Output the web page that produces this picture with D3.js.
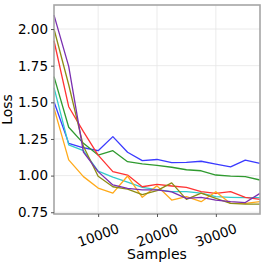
<!DOCTYPE html>
<html>
<head>
<meta charset="utf-8">
<script src="https://cdn.jsdelivr.net/npm/d3@7"></script>
<style>
  html, body { margin: 0; padding: 0; background: #fff; }
  svg text { font-family: "DejaVu Sans", sans-serif; fill: #000; }
</style>
</head>
<body>
<svg id="chart"></svg>
<script>
const samples = [2500, 5000, 7500, 10000, 12500, 15000, 17500, 20000, 22500, 25000, 27500, 30000, 32500, 35000, 37500];

const purple = [2.095, 1.745, 1.16, 1.027, 0.936, 0.913, 0.903, 0.903, 0.889, 0.845, 0.852, 0.833, 0.822, 0.816, 0.879];
const olive  = [2.00, 1.62, 1.20, 0.995, 0.924, 0.907, 0.87, 0.897, 0.95, 0.838, 0.88, 0.845, 0.81, 0.805, 0.805];
const red    = [1.92, 1.47, 1.30, 1.14, 1.027, 1.004, 0.924, 0.94, 0.929, 0.92, 0.89, 0.879, 0.89, 0.852, 0.838];
const green  = [1.675, 1.33, 1.22, 1.14, 1.17, 1.095, 1.08, 1.07, 1.057, 1.04, 1.033, 1.004, 0.997, 0.993, 0.97];
const cyan   = [1.60, 1.21, 1.17, 1.03, 0.99, 0.955, 0.92, 0.905, 0.89, 0.89, 0.88, 0.856, 0.852, 0.85, 0.85];
const blue   = [1.504, 1.22, 1.19, 1.17, 1.266, 1.159, 1.102, 1.11, 1.089, 1.09, 1.098, 1.079, 1.06, 1.106, 1.084];
const orange = [1.46, 1.107, 0.993, 0.915, 0.88, 0.997, 0.852, 0.93, 0.833, 0.856, 0.822, 0.89, 0.81, 0.81, 0.822];

const series = [
  { name: 'blue',   values: blue,   color: '#3a3aff' },
  { name: 'green',  values: green,  color: '#2f9a2f' },
  { name: 'cyan',   values: cyan,   color: '#33cccc' },
  { name: 'red',    values: red,    color: '#ff3333' },
  { name: 'orange', values: orange, color: '#ffaa1a' },
  { name: 'olive',  values: olive,  color: '#8c8c14' },
  { name: 'purple', values: purple, color: '#7a2fb0' }
];

const xTicks = [10000, 20000, 30000];
const yTicks = [0.75, 1.00, 1.25, 1.50, 1.75, 2.00];

const W = 266, H = 266;
const margin = { top: 5, right: 6, bottom: 52, left: 54 };
const width  = W - margin.left - margin.right;
const height = H - margin.top - margin.bottom;

const svg = d3.select('#chart')
  .attr('width', W)
  .attr('height', H);

const g = svg.append('g')
  .attr('transform', `translate(${margin.left}, ${margin.top})`);

const x = d3.scaleLinear()
  .domain([2500, 37500])
  .range([0, width]);

const y = d3.scaleLinear()
  .domain([0.738, 2.164])
  .range([height, 0]);

// grid
g.selectAll('.vgrid')
  .data(xTicks)
  .enter()
  .append('line')
  .attr('x1', d => x(d)).attr('x2', d => x(d))
  .attr('y1', 0).attr('y2', height)
  .attr('stroke', '#e6e6e6')
  .attr('stroke-width', 0.8);

g.selectAll('.hgrid')
  .data(yTicks)
  .enter()
  .append('line')
  .attr('x1', 0).attr('x2', width)
  .attr('y1', d => y(d)).attr('y2', d => y(d))
  .attr('stroke', '#e6e6e6')
  .attr('stroke-width', 0.8);

// lines
const line = d3.line()
  .x((d, i) => x(samples[i]))
  .y(d => y(d));

g.selectAll('.series')
  .data(series)
  .enter()
  .append('path')
  .attr('fill', 'none')
  .attr('stroke', d => d.color)
  .attr('stroke-width', 1.3)
  .attr('stroke-linejoin', 'round')
  .attr('d', d => line(d.values));

// frame
g.append('rect')
  .attr('x', 0).attr('y', 0)
  .attr('width', width).attr('height', height)
  .attr('fill', 'none')
  .attr('stroke', '#a6a6a6')
  .attr('stroke-width', 1.6);

// axes
const yAxis = g.append('g')
  .call(d3.axisLeft(y).tickValues(yTicks).tickFormat(d3.format('.2f')).tickSize(3).tickPadding(3));
yAxis.select('.domain').remove();
yAxis.selectAll('line').attr('stroke', '#555');
yAxis.selectAll('text')
  .attr('font-size', 13.5)
  .attr('font-family', 'DejaVu Sans');

const xAxis = g.append('g')
  .attr('transform', `translate(0, ${height})`)
  .call(d3.axisBottom(x).tickValues(xTicks).tickFormat(d3.format('d')).tickSize(3));
xAxis.select('.domain').remove();
xAxis.selectAll('line').attr('stroke', '#555');
xAxis.selectAll('text')
  .attr('font-size', 13.5)
  .attr('font-family', 'DejaVu Sans')
  .attr('text-anchor', 'middle')
  .attr('dy', null)
  .attr('y', 26)
  .attr('transform', 'rotate(-20, 0, 22)');

// labels
g.append('text')
  .attr('x', width / 2)
  .attr('y', height + 45)
  .attr('text-anchor', 'middle')
  .attr('font-size', 14)
  .text('Samples');

g.append('text')
  .attr('transform', `translate(${-42}, ${height / 2}) rotate(-90)`)
  .attr('text-anchor', 'middle')
  .attr('font-size', 14)
  .text('Loss');
</script>
</body>
</html>
